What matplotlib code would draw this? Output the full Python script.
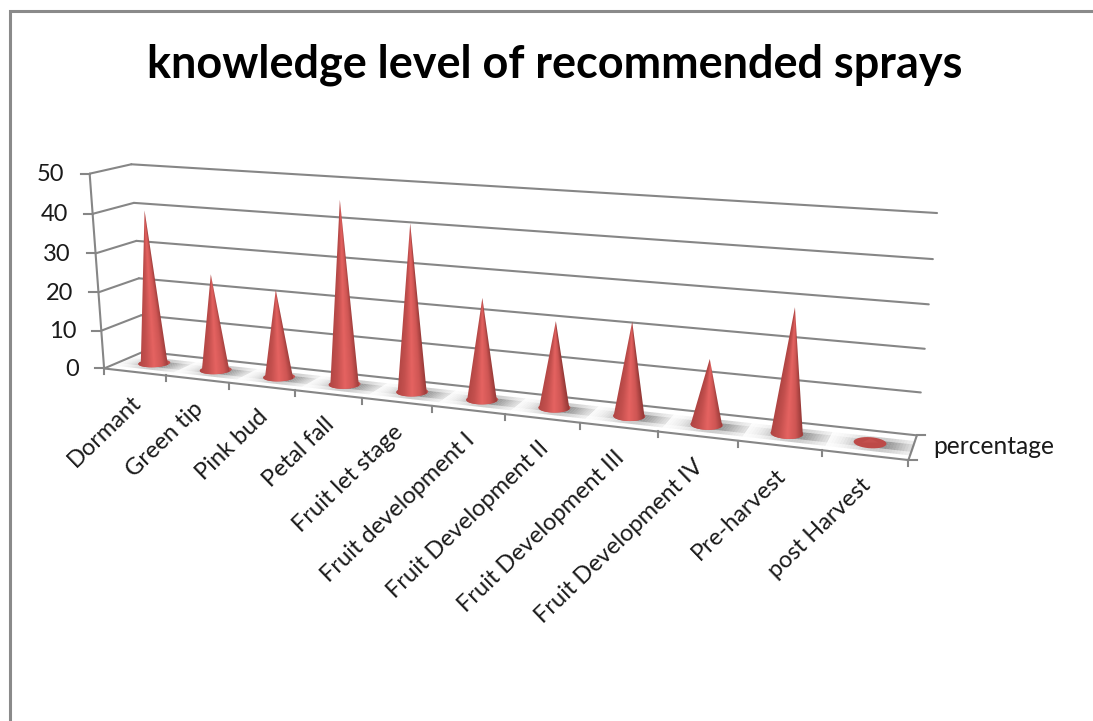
import numpy as np
from matplotlib import pyplot as plt
from matplotlib.colors import LinearSegmentedColormap
from matplotlib.patches import Polygon

categories = ["Dormant", "Green tip", "Pink bud", "Petal fall", "Fruit let stage", "Fruit development I",
              "Fruit Development II", "Fruit Development III", "Fruit Development IV", "Pre-harvest", "post Harvest"]
values = [40, 25, 22.5, 46, 41.5, 25, 21, 22.5, 15.5, 29, 1]
value_ticks = [0, 10, 20, 30, 40, 50]
series_name = "percentage"
title = "knowledge level of recommended sprays"

GRID = '#868686'
TEXT = '#1a1a1a'
FONT = 'Lato'

# picture position of known chart corners: category, depth, value, x, y
calib = np.array([
    [0, 0, 0, 105, 368], [11, 0, 0, 908, 461], [0, 1, 0, 143, 353], [11, 1, 0, 917, 434],
    [0, 0, 50, 89, 174], [0, 1, 50, 132, 164], [11, 1, 50, 937, 213],
    [1, 0, 0, 165, 375], [2, 0, 0, 229, 382], [3, 0, 0, 295, 390], [10, 0, 0, 822, 451],
], dtype=float)


def fit_camera(points):
    rows = []
    for u, d, v, x, y in points:
        x, y = x / 1000, y / 1000
        p = [u, d, v / 50, 1]
        rows.append(p + [0, 0, 0, 0] + [-x * c for c in p])
        rows.append([0, 0, 0, 0] + p + [-y * c for c in p])
    return np.linalg.svd(np.array(rows))[2][-1].reshape(3, 4)


camera = fit_camera(calib)


def project(u, d, v):
    u, d, v = np.broadcast_arrays(u, d, v)
    p = camera @ np.array([u, d, v / 50, np.ones_like(u)], dtype=float)
    return p[0] / p[2] * 1000, p[1] / p[2] * 1000


def seg(ax, a, b, lw=1.5):
    xa, ya = project(*a)
    xb, yb = project(*b)
    ax.plot([xa, xb], [ya, yb], color=GRID, lw=lw, solid_capstyle='round', zorder=2)


def draw_cone(ax, c, value, cmap):
    radius, depth, depth_radius = 0.225 - 0.035 * c / 11, 0.5, 0.22
    full = np.linspace(0, 2 * np.pi, 81)
    ex, ey = project(c + radius * np.cos(full), depth + depth_radius * np.sin(full), 0)

    # front half of the base circle, seen from above
    front = np.linspace(np.pi, 2 * np.pi, 61)
    bx, by = project(c + radius * np.cos(front), depth + depth_radius * np.sin(front), 0)
    tx, ty = project(c, depth, value)
    cx, cy = project(c, depth, 0)
    half = (ex.max() - ex.min()) / 2

    # a very low cone is only a flat red spot
    if ty > ey.min() - 3:
        ax.fill(ex, ey, color='#bd4a48', lw=0, zorder=4)
        ax.fill([ex.min() + 8, tx, ex.max() - 8], [cy, ty, cy], color='#c4504e', lw=0, zorder=5)
        return

    ax.fill(ex, ey, color='#c4504e', lw=0, zorder=4)

    # shading runs along the cone, so it narrows towards the tip
    left, right = ex.min() - 1, ex.max() + 1
    top, bottom = min(ty, ey.min()) - 1, ey.max() + 1
    px, py = np.meshgrid(np.linspace(left, right, 120), np.linspace(top, bottom, 240))
    f = np.clip((py - ty) / (cy - ty), 0.004, 1)
    t = np.clip(((px - (tx + (cx - tx) * f)) / (half * f) + 1) / 2, 0, 1)
    img = ax.imshow(t, cmap=cmap, vmin=0, vmax=1, extent=(left, right, bottom, top), aspect='auto',
                    origin='upper', interpolation='bilinear', zorder=5)
    outline = Polygon(np.column_stack([np.r_[tx, bx], np.r_[ty, by]]), closed=True, transform=ax.transData)
    img.set_clip_path(outline)


fig = plt.figure(figsize=(10.93, 7.21), dpi=100)
ax = fig.add_axes([0, 0, 1, 1])

# outer chart border
ax.plot([9.5, 9.5, 1093], [721, 10.5, 10.5], color='#8a8a8a', lw=2.2, zorder=1, solid_joinstyle='miter')

n = len(categories)

# walls and floor
for v in value_ticks:
    seg(ax, (0, 1, v), (n, 1, v))
    seg(ax, (0, 0, v), (0, 1, v))
    x, y = project(0, 0, v)
    ax.plot([x - 9, x], [y, y], color=GRID, lw=1.5, zorder=2)
    ax.text(x - 25, y + 1, str(v), ha='right', va='center', fontsize=17, color=TEXT, family=FONT)
seg(ax, (0, 0, 0), (0, 0, 50))
seg(ax, (0, 0, 0), (n, 0, 0))
seg(ax, (n, 0, 0), (n, 1, 0))
for i in range(n + 1):
    x, y = project(i, 0, 0)
    ax.plot([x, x], [y, y + 6], color=GRID, lw=1.5, zorder=2)
x, y = project(n, 0, 0)
ax.plot([x, x + 9], [y, y], color=GRID, lw=1.5, zorder=2)
x, y = project(n, 1, 0)
ax.plot([x, x + 8], [y, y], color=GRID, lw=1.5, zorder=2)

# soft shadow on the floor
for i in range(n):
    for t0 in np.linspace(-0.5, 0.48, 30):
        t1 = t0 + 1 / 30 + 0.002
        strength = np.exp(-((t0 - 0.1) / 0.33) ** 2)
        for d0, d1, k in [(0.18, 0.32, 0.45), (0.32, 0.62, 1.0), (0.62, 0.76, 0.45)]:
            xs, ys = project(i + 0.5 + np.array([t0, t1, t1, t0]), np.array([d0, d0, d1, d1]), 0)
            ax.fill(xs, ys, color='#6e6e6e', alpha=0.75 * strength * k, lw=0, zorder=3)

# cones
shade = LinearSegmentedColormap.from_list('cone', ['#b04543', '#c4504e', '#e56361', '#cf5654', '#8e3533'])
for i, value in enumerate(values):
    draw_cone(ax, i + 0.5, value, shade)

# category labels
for i, name in enumerate(categories):
    x, y = project(i + 0.5, 0, 0)
    ax.text(x + 3, y + 27, name, rotation=44, rotation_mode='anchor', ha='right', va='center',
            fontsize=17, color=TEXT, family=FONT)

ax.text(933, 447, series_name, ha='left', va='center', fontsize=17.7, color=TEXT, family=FONT)
ax.text(555, 65, title, ha='center', va='center', fontsize=32.4, fontweight='bold', color='black', family=FONT)

ax.set_xlim(0, 1093)
ax.set_ylim(721, 0)
ax.axis('off')

plt.savefig("out.png", dpi=100)
